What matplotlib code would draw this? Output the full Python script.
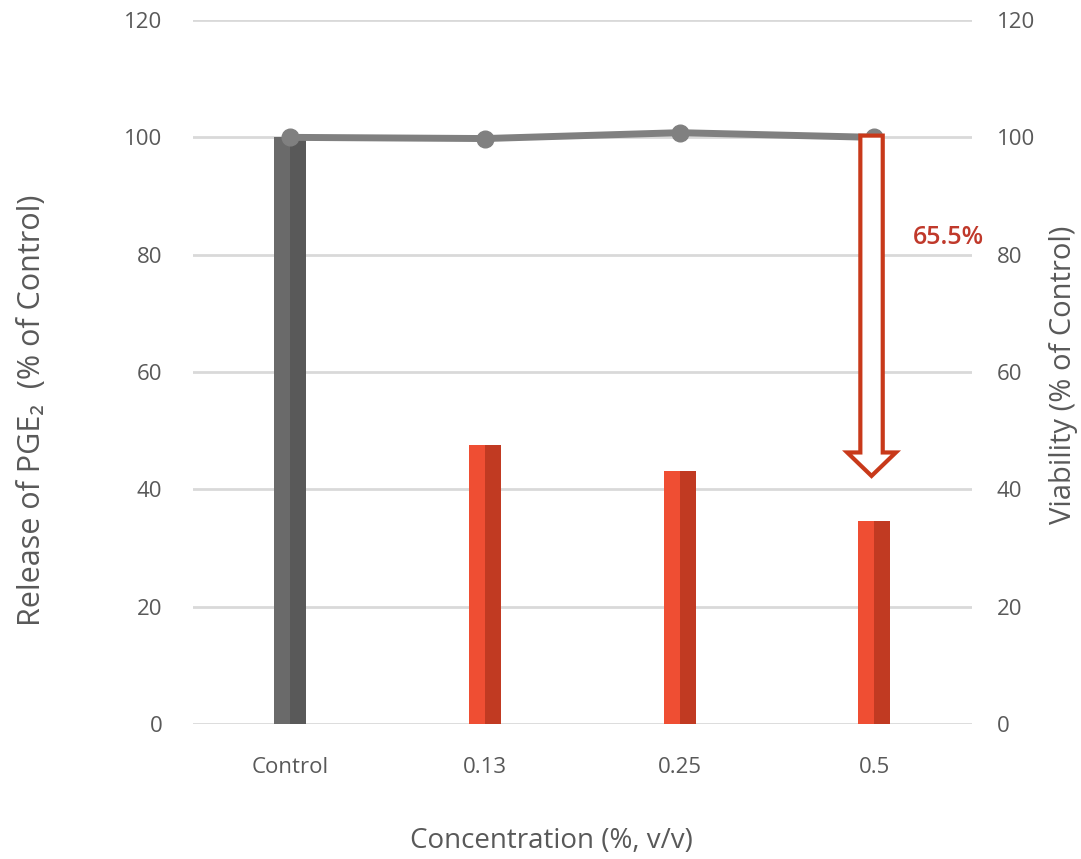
import numpy as np
import matplotlib
matplotlib.use("Agg")
import matplotlib.pyplot as plt
from matplotlib.patches import FancyArrow

plt.rcParams['font.family'] = ['Open Sans', 'DejaVu Sans']

# data
categories = ['Control', '0.13', '0.25', '0.5']
pge2 = [100, 47.5, 43.1, 34.6]          # release of PGE2, % of control
viability = [100, 99.8, 100.8, 100]     # viability, % of control
reduction_label = '65.5%'

light = ['#6a6a6a', '#ef4e33', '#ef4e33', '#ef4e33']
dark = ['#595959', '#c13a22', '#c13a22', '#c13a22']
txt = '#595959'

fig = plt.figure(figsize=(10.81, 8.59), dpi=100)
ax = fig.add_axes([0.1785, 0.157, 0.7205, 0.8197])
x = np.arange(len(categories))
w = 0.082

# two-tone bars: lighter left half, darker right half
ax.bar(x - w / 2, pge2, width=w, color=light, zorder=3)
ax.bar(x + w / 2, pge2, width=w, color=dark, zorder=3)

ax.set_xlim(-0.5, len(categories) - 0.5)
ax.set_ylim(0, 120)
ax.set_yticks(range(0, 121, 20))
ax.yaxis.grid(True, color='#d9d9d9', linewidth=2, zorder=0)
ax.set_axisbelow(True)
for s in ax.spines.values():
    s.set_visible(False)
ax.set_xticks(x)
ax.set_xticklabels(categories)
ax.tick_params(axis='both', length=0, colors=txt, labelsize=16)
ax.tick_params(axis='x', pad=24)
ax.tick_params(axis='y', pad=22)
ax.set_xlabel('Concentration (%, v/v)', fontsize=20, color=txt)
ax.xaxis.set_label_coords(0.46, -0.146)
ax.set_ylabel('Release of PGE\u2082  (% of Control)', fontsize=22, color=txt)
ax.yaxis.set_label_coords(-0.187, 0.445)

ax2 = ax.twinx()
ax2.set_ylim(0, 120)
ax2.set_yticks(range(0, 121, 20))
for s in ax2.spines.values():
    s.set_visible(False)
ax2.tick_params(axis='y', length=0, colors=txt, labelsize=16, pad=18)
ax2.set_ylabel('Viability (% of Control)', fontsize=21, color=txt, rotation=90)
ax2.yaxis.set_label_coords(1.099, 0.496)
ax2.plot(x, viability, color='#808080', linewidth=5, marker='o', markersize=12,
         solid_capstyle='round', zorder=4)

# hollow arrow showing the reduction at 0.5
arr = FancyArrow(3 - 0.015, 100.3, 0, -100.3 + 42.3, width=0.115, head_width=0.25,
                 head_length=4.0, length_includes_head=True,
                 facecolor='white', edgecolor='#c8391a', linewidth=3, zorder=6)
ax2.add_patch(arr)
ax2.text(3.38, 83, reduction_label, color='#c0392b', fontsize=18, fontweight='semibold',
         ha='center', va='center', zorder=7)

fig.savefig('out.png', dpi=100)
